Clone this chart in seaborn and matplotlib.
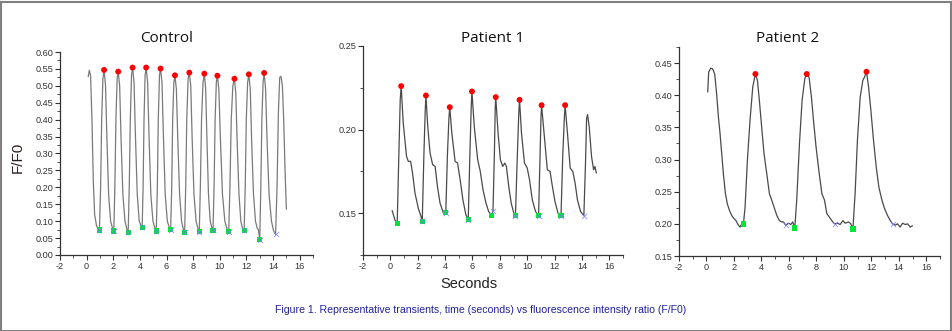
import matplotlib
matplotlib.use("Agg")
import matplotlib.pyplot as plt
import seaborn as sns
from matplotlib.ticker import AutoMinorLocator, MultipleLocator, FormatStrFormatter
from matplotlib.patches import Rectangle

# ---------------- data ----------------
# Control trace
ctrl_t = [0.12, 0.2, 0.3, 0.4, 0.5, 0.6, 0.75, 0.96,
          1.05, 1.13, 1.22, 1.31, 1.42, 1.52, 1.65, 1.8, 1.95, 2.04,
          2.12, 2.2, 2.29, 2.37, 2.48, 2.58, 2.72, 2.88, 3.03, 3.12,
          3.2, 3.28, 3.37, 3.45, 3.56, 3.66, 3.8, 3.95, 4.1, 4.17,
          4.24, 4.31, 4.39, 4.47, 4.58, 4.68, 4.82, 4.98, 5.14, 5.23,
          5.31, 5.38, 5.47, 5.55, 5.66, 5.76, 5.9, 6.06, 6.22, 6.31,
          6.39, 6.46, 6.55, 6.63, 6.74, 6.84, 6.98, 7.13, 7.28, 7.36,
          7.44, 7.52, 7.62, 7.71, 7.82, 7.92, 8.06, 8.22, 8.38, 8.46,
          8.54, 8.63, 8.74, 8.84, 8.94, 9.03, 9.15, 9.28, 9.42, 9.49,
          9.57, 9.65, 9.74, 9.82, 9.93, 10.04, 10.2, 10.38, 10.56, 10.67,
          10.76, 10.86, 10.98, 11.1, 11.2, 11.3, 11.44, 11.58, 11.7, 11.83,
          11.91, 11.99, 12.09, 12.18, 12.29, 12.39, 12.53, 12.68, 12.82, 12.9, 13.0,
          13.08, 13.16, 13.25, 13.33, 13.44, 13.55, 13.7, 13.88, 14.05, 14.19,
          14.3, 14.4, 14.5, 14.6, 14.7, 14.8, 14.9, 15.0]
ctrl_y = [0.527, 0.546, 0.53, 0.40, 0.22, 0.12, 0.085, 0.074,
          0.20, 0.40, 0.52, 0.547, 0.50, 0.35, 0.18, 0.10, 0.078, 0.071,
          0.20, 0.40, 0.52, 0.542, 0.50, 0.35, 0.18, 0.10, 0.075, 0.067,
          0.20, 0.40, 0.53, 0.554, 0.51, 0.36, 0.18, 0.10, 0.085, 0.082,
          0.20, 0.40, 0.53, 0.554, 0.51, 0.36, 0.18, 0.10, 0.078, 0.071,
          0.20, 0.40, 0.53, 0.551, 0.51, 0.36, 0.18, 0.10, 0.08, 0.075,
          0.20, 0.40, 0.51, 0.531, 0.49, 0.35, 0.18, 0.10, 0.073, 0.067,
          0.20, 0.40, 0.52, 0.539, 0.50, 0.35, 0.18, 0.10, 0.075, 0.069,
          0.20, 0.40, 0.51, 0.536, 0.49, 0.35, 0.18, 0.10, 0.078, 0.073,
          0.20, 0.40, 0.51, 0.530, 0.49, 0.35, 0.18, 0.10, 0.075, 0.069,
          0.20, 0.40, 0.50, 0.521, 0.48, 0.34, 0.18, 0.10, 0.08, 0.073,
          0.20, 0.40, 0.51, 0.534, 0.49, 0.34, 0.18, 0.10, 0.078, 0.075, 0.045,
          0.20, 0.40, 0.51, 0.538, 0.49, 0.34, 0.18, 0.10, 0.07, 0.061,
          0.20, 0.42, 0.525, 0.528, 0.50, 0.40, 0.25, 0.135]
ctrl_peak_t = [1.31, 2.37, 3.45, 4.47, 5.55, 6.63, 7.71, 8.84, 9.82, 11.1, 12.18, 13.33]
ctrl_peak_y = [0.547, 0.542, 0.554, 0.554, 0.551, 0.531, 0.539, 0.536, 0.530, 0.521, 0.534, 0.538]
ctrl_trough_t = [0.96, 2.04, 3.12, 4.17, 5.23, 6.31, 7.36, 8.46, 9.49, 10.67, 11.83, 13.0]
ctrl_trough_y = [0.074, 0.071, 0.067, 0.082, 0.071, 0.075, 0.067, 0.069, 0.073, 0.069, 0.073, 0.045]
ctrl_x_t = [0.96, 2.04, 3.12, 4.17, 5.23, 6.31, 7.36, 8.46, 9.49, 10.67, 11.83, 13.0, 14.19]
ctrl_x_y = [0.074, 0.071, 0.067, 0.082, 0.071, 0.075, 0.067, 0.069, 0.073, 0.069, 0.073, 0.045, 0.061]

# Patient 1 trace
p1_t = [0.13, 0.33, 0.50,
        0.62, 0.72, 0.79, 0.94, 1.06, 1.18, 1.31, 1.48, 1.62, 1.80, 2.04, 2.24, 2.33,
        2.45, 2.55, 2.60, 2.73, 2.90, 3.09, 3.27, 3.44, 3.63, 3.88, 3.95, 4.05,
        4.17, 4.28, 4.34, 4.49, 4.73, 4.91, 5.10, 5.30, 5.52, 5.69,
        5.81, 5.91, 5.96, 6.13, 6.38, 6.57, 6.77, 6.99, 7.18, 7.40, 7.50,
        7.60, 7.66, 7.70, 7.87, 8.04, 8.21, 8.36, 8.48, 8.65, 8.83, 9.02, 9.14,
        9.28, 9.39, 9.44, 9.58, 9.80, 10.00, 10.17, 10.37, 10.61, 10.83,
        10.94, 11.01, 11.05, 11.23, 11.47, 11.67, 11.84, 12.03, 12.25, 12.47,
        12.60, 12.72, 12.77, 12.94, 13.14, 13.33, 13.50, 13.67, 13.90, 14.14,
        14.26, 14.34, 14.41, 14.53, 14.70, 14.85, 14.95, 15.05]
p1_y = [0.1516, 0.146, 0.144,
        0.185, 0.218, 0.226, 0.204, 0.194, 0.184, 0.181, 0.181, 0.174, 0.162, 0.153, 0.148, 0.1452,
        0.185, 0.212, 0.2204, 0.202, 0.186, 0.179, 0.178, 0.166, 0.156, 0.150, 0.149, 0.1504,
        0.185, 0.207, 0.2134, 0.198, 0.181, 0.180, 0.170, 0.158, 0.149, 0.1462,
        0.185, 0.214, 0.2228, 0.202, 0.182, 0.175, 0.164, 0.156, 0.151, 0.1486, 0.1516,
        0.185, 0.212, 0.2194, 0.198, 0.182, 0.178, 0.180, 0.178, 0.166, 0.156, 0.150, 0.1484,
        0.185, 0.211, 0.2178, 0.198, 0.180, 0.177, 0.170, 0.158, 0.151, 0.1484,
        0.185, 0.208, 0.2146, 0.198, 0.176, 0.175, 0.166, 0.157, 0.150, 0.1486,
        0.185, 0.208, 0.2146, 0.198, 0.177, 0.175, 0.168, 0.158, 0.151, 0.1486,
        0.180, 0.2067, 0.209, 0.2017, 0.184, 0.176, 0.178, 0.174]
p1_peak_t = [0.79, 2.60, 4.34, 5.96, 7.70, 9.44, 11.05, 12.77]
p1_peak_y = [0.226, 0.2204, 0.2134, 0.2228, 0.2194, 0.2178, 0.2146, 0.2146]
p1_trough_t = [0.50, 2.33, 4.05, 5.69, 7.40, 9.14, 10.83, 12.47]
p1_trough_y = [0.144, 0.1452, 0.1504, 0.1462, 0.1486, 0.1484, 0.1484, 0.1486]
p1_x_t = [2.33, 4.05, 5.69, 7.50, 9.14, 10.83, 12.47, 14.14]
p1_x_y = [0.1452, 0.1504, 0.1462, 0.1516, 0.1484, 0.1484, 0.1486, 0.1486]

# Patient 2 trace
p2_t = [0.09, 0.16, 0.31, 0.45, 0.60, 0.74, 0.87, 0.99, 1.11, 1.23, 1.38, 1.52, 1.67, 1.84,
        2.01, 2.15, 2.32, 2.45, 2.57, 2.69,
        2.81, 2.98, 3.17, 3.37, 3.56, 3.71, 3.85, 4.02, 4.19, 4.39, 4.58, 4.75, 4.95, 5.12,
        5.31, 5.48, 5.60, 5.77, 5.97, 6.14, 6.28, 6.43,
        6.57, 6.77, 6.96, 7.16, 7.30, 7.47, 7.64, 7.79, 7.98, 8.18, 8.40, 8.59, 8.76, 8.93,
        9.12, 9.32, 9.54, 9.73, 9.93, 10.10, 10.34, 10.51, 10.66,
        10.82, 10.99, 11.19, 11.38, 11.50, 11.65, 11.80, 11.97, 12.16, 12.36, 12.55, 12.77,
        12.96, 13.18, 13.38, 13.55, 13.74, 13.91, 14.10, 14.27, 14.47, 14.64, 14.83, 15.0]
p2_y = [0.405, 0.436, 0.442, 0.441, 0.433, 0.402, 0.366, 0.340, 0.309, 0.278, 0.247, 0.231, 0.221, 0.213,
        0.208, 0.205, 0.198, 0.195, 0.200, 0.1997,
        0.226, 0.299, 0.361, 0.413, 0.433, 0.423, 0.392, 0.350, 0.309, 0.278, 0.247, 0.237, 0.224, 0.213,
        0.205, 0.203, 0.203, 0.198, 0.201, 0.199, 0.203, 0.1935,
        0.237, 0.325, 0.392, 0.426, 0.433, 0.428, 0.397, 0.361, 0.319, 0.283, 0.247, 0.237, 0.216, 0.211,
        0.205, 0.200, 0.201, 0.199, 0.205, 0.201, 0.203, 0.200, 0.192,
        0.247, 0.330, 0.397, 0.423, 0.428, 0.4365, 0.413, 0.376, 0.330, 0.288, 0.257, 0.237,
        0.224, 0.213, 0.205, 0.200, 0.198, 0.200, 0.195, 0.201, 0.199, 0.200, 0.195, 0.197]
p2_peak_t = [3.56, 7.30, 11.65]
p2_peak_y = [0.433, 0.433, 0.4365]
p2_trough_t = [2.69, 6.43, 10.66]
p2_trough_y = [0.1997, 0.1935, 0.192]
p2_x_t = [5.77, 9.32, 13.55]
p2_x_y = [0.1977, 0.1997, 0.1997]

titles = ["Control", "Patient 1", "Patient 2"]
x_ticks = [-2, 0, 2, 4, 6, 8, 10, 12, 14, 16]

# ---------------- style ----------------
sns.set_style("ticks")
plt.rcParams["font.family"] = ["Liberation Sans", "DejaVu Sans"]
plt.rcParams["axes.unicode_minus"] = False

W, H = 952, 331
fig = plt.figure(figsize=(W / 100, H / 100), dpi=100)
fig.patch.set_facecolor("white")


def make_ax(l, r, t, b):
    return fig.add_axes([l / W, 1 - b / H, (r - l) / W, (b - t) / H])


panels = [
    dict(box=(60, 313, 52, 255), ylim=(0, 0.6), ystep=0.05, t=ctrl_t, y=ctrl_y,
         pt=ctrl_peak_t, py=ctrl_peak_y, gt=ctrl_trough_t, gy=ctrl_trough_y,
         xt=ctrl_x_t, xy=ctrl_x_y, lc="#7a7a7a", title_xy=(167, 38)),
    dict(box=(363, 623, 46, 255), ylim=(0.125, 0.25), ystep=0.05, t=p1_t, y=p1_y,
         pt=p1_peak_t, py=p1_peak_y, gt=p1_trough_t, gy=p1_trough_y,
         xt=p1_x_t, xy=p1_x_y, lc="#4a4a4a", title_xy=(493, 38)),
    dict(box=(679, 940, 47, 256), ylim=(0.15, 0.475), ystep=0.05, t=p2_t, y=p2_y,
         pt=p2_peak_t, py=p2_peak_y, gt=p2_trough_t, gy=p2_trough_y,
         xt=p2_x_t, xy=p2_x_y, lc="#4a4a4a", title_xy=(788, 38)),
]

for i, p in enumerate(panels):
    ax = make_ax(*p["box"])
    sns.lineplot(x=p["t"], y=p["y"], ax=ax, color=p["lc"], lw=0.9, sort=False, estimator=None)
    sns.scatterplot(x=p["gt"], y=p["gy"], ax=ax, color="#00e632", marker="s", s=14,
                    edgecolor="none", zorder=4)
    sns.scatterplot(x=p["xt"], y=p["xy"], ax=ax, color="#7b7bff", marker="x", s=14,
                    linewidth=0.6, alpha=0.85, zorder=5)
    sns.scatterplot(x=p["pt"], y=p["py"], ax=ax, color="#ff0000", marker="o", s=18,
                    edgecolor="none", zorder=5)
    ax.set_xlim(-2, 17)
    ax.set_ylim(*p["ylim"])
    ax.set_xticks(x_ticks)
    ax.xaxis.set_minor_locator(AutoMinorLocator(2))
    ax.yaxis.set_major_locator(MultipleLocator(p["ystep"]))
    ax.yaxis.set_minor_locator(AutoMinorLocator(2))
    ax.yaxis.set_major_formatter(FormatStrFormatter("%.2f"))
    ax.set_xlabel("")
    ax.set_ylabel("")
    for s in ["top", "right"]:
        ax.spines[s].set_visible(False)
    for s in ["left", "bottom"]:
        ax.spines[s].set_color("#333333")
        ax.spines[s].set_linewidth(0.9)
    ax.tick_params(which="major", direction="out", length=3.5, width=0.8,
                   colors="#333333", labelsize=6.6, pad=1.5)
    ax.tick_params(which="minor", direction="out", length=2, width=0.6, colors="#333333")
    ax.set_facecolor("white")
    tx, ty = p["title_xy"]
    fig.text(tx / W, 1 - ty / H, titles[i], ha="center", va="center",
             fontsize=11, family=["Open Sans", "DejaVu Sans"], color="#111111")

fig.text(17.5 / W, 1 - 157 / H, "F/F0", rotation=90, ha="center", va="center",
         fontsize=11, color="#2e1c1c")
fig.text(469 / W, 1 - 284 / H, "Seconds", ha="center", va="center",
         fontsize=10.5, color="#222222")
fig.text(481 / W, 1 - 310 / H,
         "Figure 1. Representative transients, time (seconds) vs fluorescence intensity ratio (F/F0)",
         ha="center", va="center", fontsize=7.6, color="#22229a")

# outer frame
fig.add_artist(Rectangle((0.5 / W, 0.5 / H), (W - 2) / W, (H - 2) / H,
                         transform=fig.transFigure, fill=False,
                         edgecolor="#808080", linewidth=1.5))

fig.savefig("out.png", dpi=100, facecolor="white")
